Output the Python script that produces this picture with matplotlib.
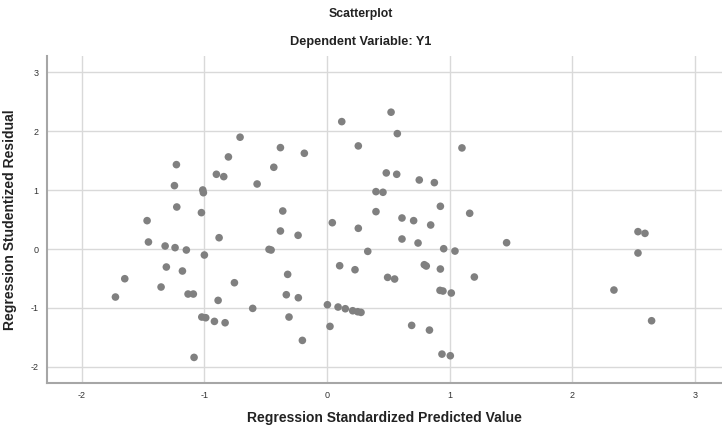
import matplotlib
matplotlib.use("Agg")
import matplotlib.pyplot as plt

# standardized predicted value vs studentized residual
pred = [-1.725, -1.649, -1.467, -1.456, -1.353, -1.320, -1.310, -1.244, -1.239, -1.228,
        -1.225, -1.179, -1.147, -1.133, -1.090, -1.084, -1.024, -1.021, -1.013, -1.008,
        -1.000, -0.989, -0.918, -0.902, -0.888, -0.880, -0.842, -0.831, -0.804, -0.755,
        -0.709, -0.606, -0.570, -0.473, -0.456, -0.434, -0.380, -0.380, -0.361, -0.332,
        -0.321, -0.310, -0.236, -0.234, -0.201, -0.185, 0.003, 0.024, 0.043, 0.090,
        0.103, 0.120, 0.149, 0.209, 0.228, 0.250, 0.255, 0.255, 0.277, 0.332,
        0.399, 0.399, 0.456, 0.483, 0.494, 0.522, 0.551, 0.568, 0.573, 0.611,
        0.611, 0.690, 0.706, 0.742, 0.752, 0.793, 0.809, 0.835, 0.845, 0.875,
        0.921, 0.924, 0.924, 0.937, 0.945, 0.951, 1.005, 1.013, 1.043, 1.100,
        1.163, 1.201, 1.464, 2.339, 2.535, 2.535, 2.592, 2.646]
resid = [-0.816, -0.505, 0.482, 0.119, -0.646, 0.051, -0.306, 1.077, 0.023, 1.434,
         0.714, -0.374, -0.017, -0.765, -0.765, -1.842, 0.618, -1.156, 1.003, 0.957,
         -0.102, -1.168, -1.230, 1.270, -0.873, 0.192, 1.230, -1.253, 1.565, -0.573,
         1.900, -1.009, 1.105, -0.006, -0.017, 1.389, 1.723, 0.306, 0.646, -0.777,
         -0.431, -1.156, 0.233, -0.828, -1.553, 1.627, -0.947, -1.315, 0.447, -0.986,
         -0.284, 2.165, -1.015, -1.049, -0.352, -1.066, 1.752, 0.352, -1.077, -0.040,
         0.975, 0.635, 0.964, 1.293, -0.482, 2.325, -0.510, 1.270, 1.961, 0.527,
         0.170, -1.298, 0.482, 0.102, 1.173, -0.267, -0.289, -1.378, 0.408, 1.128,
         -0.703, 0.726, -0.340, -1.786, -0.714, 0.005, -1.814, -0.748, -0.035, 1.718,
         0.607, -0.476, 0.107, -0.697, 0.295, -0.068, 0.266, -1.219]
ticks = [-2, -1, 0, 1, 2, 3]

plt.rcParams['font.family'] = ['Liberation Sans', 'DejaVu Sans']
plt.rcParams['axes.unicode_minus'] = False

fig = plt.figure(figsize=(7.22, 4.26), dpi=100)
ax = fig.add_axes([47 / 722, 1 - 383 / 426, 675 / 722, (383 - 56) / 426])

ax.scatter(pred, resid, s=30, color='#808080', edgecolors='none', zorder=3)

ax.set_xlim(-2.283, 3.22)
ax.set_ylim(-2.277, 3.28)
ax.set_xticks(ticks)
ax.set_yticks(ticks)
ax.grid(True, color='#d9d9d9', linewidth=1.0, zorder=0)
ax.tick_params(length=0, labelsize=6.5, labelcolor='#333333', pad=6)

for s in ['top', 'right']:
    ax.spines[s].set_visible(False)
for s in ['left', 'bottom']:
    ax.spines[s].set_color('#a6a6a6')
    ax.spines[s].set_linewidth(1.5)

ax.set_xlabel('Regression Standardized Predicted Value', fontsize=10, fontweight='bold',
              color='#222222', labelpad=8)
ax.set_ylabel('Regression Studentized Residual', fontsize=10, fontweight='bold',
              color='#222222', labelpad=10)

fig.text(0.5, 1 - 14 / 426, 'Scatterplot', ha='center', va='center', fontsize=8.8,
         fontweight='bold', color='#222222')
fig.text(0.5, 1 - 42 / 426, 'Dependent Variable: Y1', ha='center', va='center', fontsize=9.2,
         fontweight='bold', color='#222222')

fig.savefig('out.png', dpi=100)
